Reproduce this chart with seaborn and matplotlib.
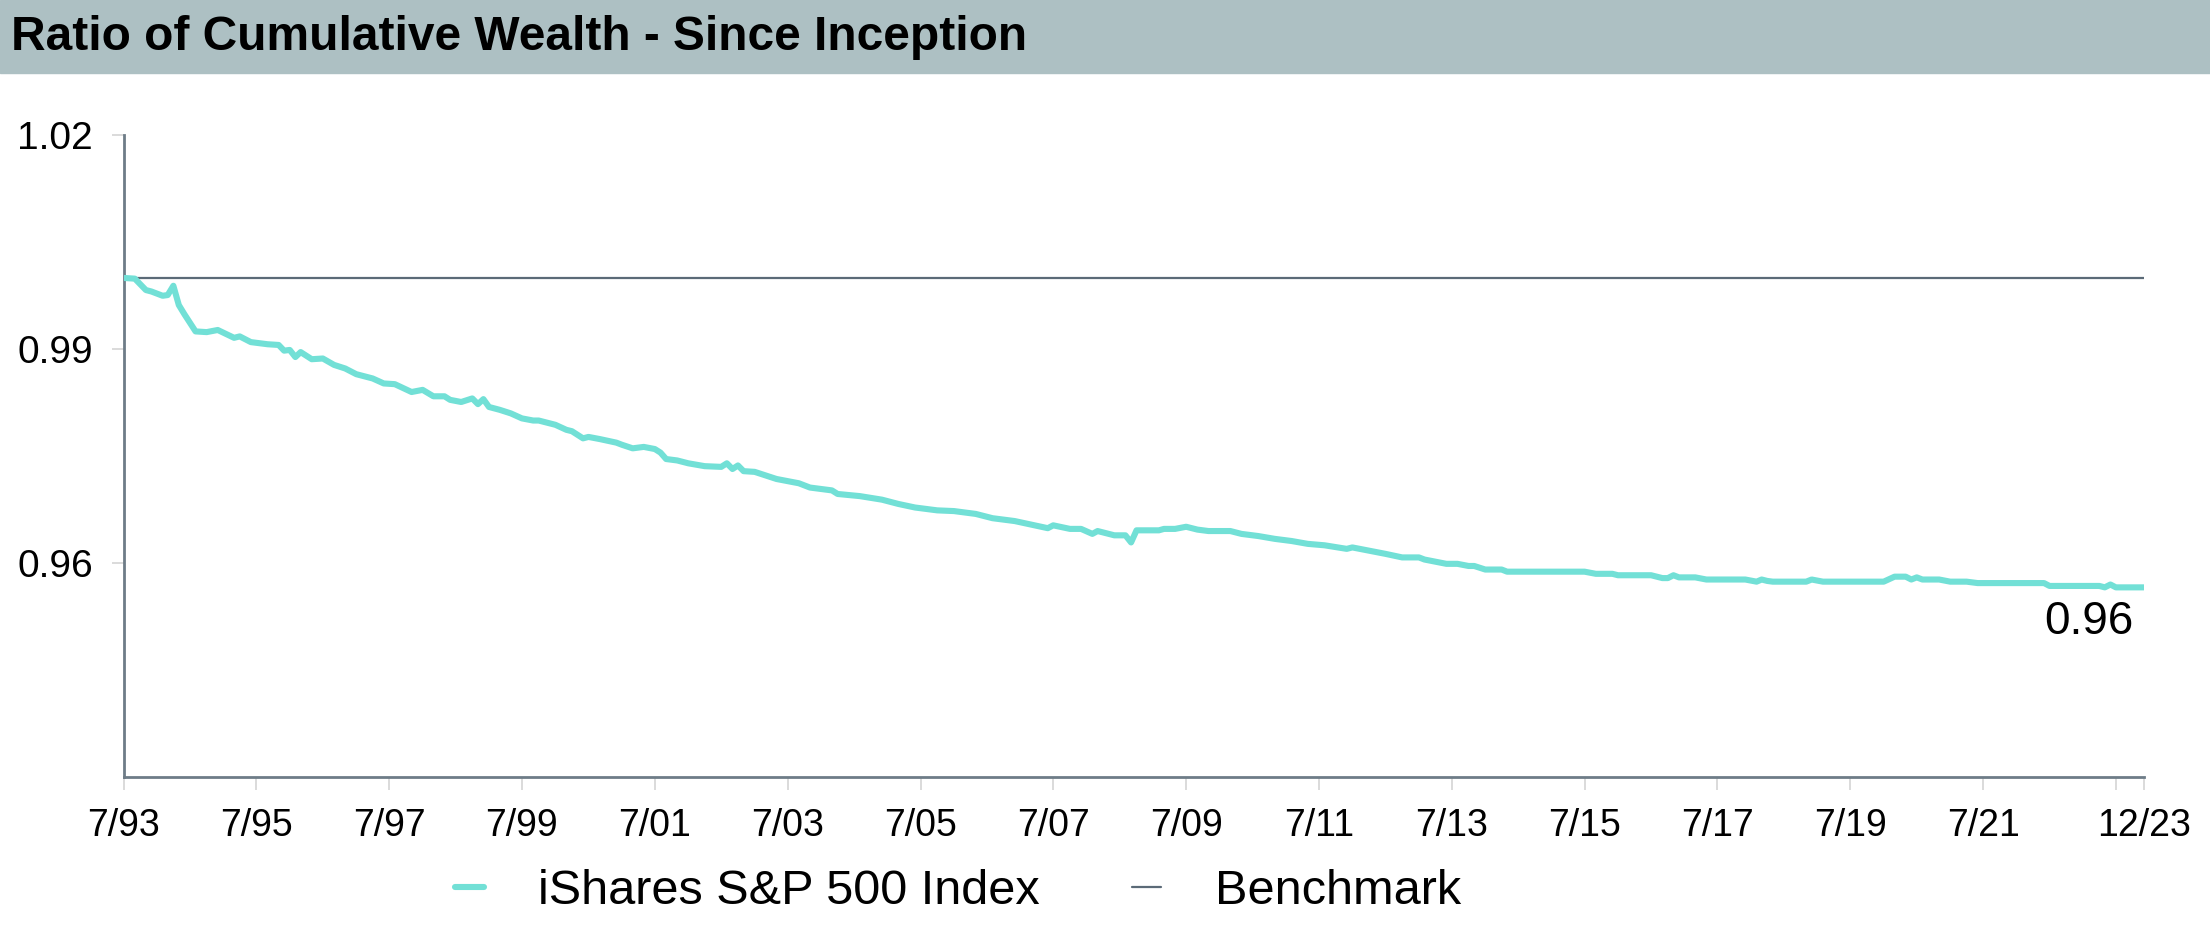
import matplotlib
matplotlib.use("Agg")
import matplotlib.pyplot as plt
from matplotlib.lines import Line2D
from matplotlib.patches import Rectangle
import pandas as pd
import seaborn as sns

# Monthly ratio of cumulative wealth, fund vs. benchmark
dates = [
    "1993-07", "1993-09", "1993-11", "1993-12", "1994-02", "1994-03", "1994-04", "1994-05",
    "1994-06", "1994-08", "1994-10", "1994-12", "1995-03", "1995-04", "1995-06", "1995-09",
    "1995-11", "1995-12", "1996-01", "1996-02", "1996-03", "1996-05", "1996-07", "1996-09",
    "1996-11", "1997-01", "1997-04", "1997-06", "1997-08", "1997-11", "1998-01", "1998-03",
    "1998-05", "1998-06", "1998-08", "1998-10", "1998-11", "1998-12", "1999-01", "1999-03",
    "1999-05", "1999-07", "1999-09", "1999-10", "2000-01", "2000-03", "2000-04", "2000-06",
    "2000-07", "2000-09", "2000-12", "2001-01", "2001-03", "2001-05", "2001-07", "2001-08",
    "2001-09", "2001-11", "2002-01", "2002-04", "2002-07", "2002-08", "2002-09", "2002-10",
    "2002-11", "2003-01", "2003-05", "2003-09", "2003-11", "2004-03", "2004-04", "2004-08",
    "2004-12", "2005-03", "2005-06", "2005-10", "2006-01", "2006-05", "2006-08", "2006-12",
    "2007-03", "2007-06", "2007-07", "2007-10", "2007-12", "2008-02", "2008-03", "2008-05",
    "2008-06", "2008-08", "2008-09", "2008-10", "2009-02", "2009-03", "2009-05", "2009-07",
    "2009-09", "2009-11", "2010-03", "2010-05", "2010-08", "2010-11", "2011-02", "2011-05",
    "2011-08", "2011-12", "2012-01", "2012-03", "2012-07", "2012-10", "2013-01", "2013-02",
    "2013-06", "2013-08", "2013-10", "2013-11", "2014-01", "2014-04", "2014-05", "2015-07",
    "2015-09", "2015-12", "2016-01", "2016-07", "2016-09", "2016-10", "2016-11", "2016-12",
    "2017-03", "2017-05", "2017-12", "2018-02", "2018-03", "2018-04", "2018-05", "2018-11",
    "2018-12", "2019-02", "2020-01", "2020-03", "2020-05", "2020-06", "2020-07", "2020-08",
    "2020-11", "2021-01", "2021-04", "2021-06", "2022-06", "2022-07", "2023-04", "2023-05",
    "2023-06", "2023-07", "2023-12",
]
ishares_ratio = [
    1.0000, 0.9999, 0.9983, 0.9981, 0.9975, 0.9976, 0.9989, 0.9962,
    0.9949, 0.9925, 0.9924, 0.9927, 0.9916, 0.9918, 0.9910, 0.9907,
    0.9906, 0.9898, 0.9899, 0.9889, 0.9896, 0.9886, 0.9887, 0.9878,
    0.9873, 0.9865, 0.9859, 0.9852, 0.9851, 0.9840, 0.9843, 0.9834,
    0.9834, 0.9829, 0.9826, 0.9831, 0.9823, 0.9830, 0.9819, 0.9815,
    0.9810, 0.9803, 0.9800, 0.9800, 0.9794, 0.9787, 0.9785, 0.9775,
    0.9777, 0.9774, 0.9769, 0.9766, 0.9761, 0.9763, 0.9760, 0.9755,
    0.9746, 0.9744, 0.9740, 0.9736, 0.9735, 0.9740, 0.9732, 0.9737,
    0.9729, 0.9728, 0.9718, 0.9712, 0.9706, 0.9702, 0.9697, 0.9694,
    0.9689, 0.9683, 0.9678, 0.9674, 0.9673, 0.9669, 0.9663, 0.9659,
    0.9654, 0.9649, 0.9653, 0.9648, 0.9648, 0.9641, 0.9645, 0.9641,
    0.9639, 0.9639, 0.9629, 0.9646, 0.9646, 0.9648, 0.9648, 0.9651,
    0.9647, 0.9645, 0.9645, 0.9641, 0.9638, 0.9634, 0.9631, 0.9627,
    0.9625, 0.9620, 0.9622, 0.9619, 0.9613, 0.9608, 0.9608, 0.9605,
    0.9599, 0.9599, 0.9596, 0.9596, 0.9591, 0.9591, 0.9588, 0.9588,
    0.9585, 0.9585, 0.9583, 0.9583, 0.9579, 0.9579, 0.9583, 0.9580,
    0.9580, 0.9577, 0.9577, 0.9574, 0.9577, 0.9575, 0.9574, 0.9574,
    0.9577, 0.9574, 0.9574, 0.9581, 0.9581, 0.9577, 0.9580, 0.9577,
    0.9577, 0.9574, 0.9574, 0.9572, 0.9572, 0.9568, 0.9568, 0.9566,
    0.9570, 0.9566, 0.9566,
]
benchmark_dates = ["1993-07", "2023-12"]
benchmark_ratio = [1.0, 1.0]

y_ticks = [0.96, 0.99, 1.02]
x_tick_dates = [
    "1993-07", "1995-07", "1997-07", "1999-07", "2001-07", "2003-07", "2005-07",
    "2007-07", "2009-07", "2011-07", "2013-07", "2015-07", "2017-07", "2019-07",
    "2021-07", "2023-07", "2023-12",
]
x_tick_labels = [
    "7/93", "7/95", "7/97", "7/99", "7/01", "7/03", "7/05", "7/07", "7/09",
    "7/11", "7/13", "7/15", "7/17", "7/19", "7/21", "", "12/23",
]

FUND_COLOR = "#72e0d6"
BENCH_COLOR = "#5b6a77"
AXIS_COLOR = "#6e7c87"
TICK_COLOR = "#d4d4d4"
BAR_COLOR = "#adc0c3"

sns.set_theme(style="white")
plt.rcParams["font.family"] = ["Liberation Sans", "DejaVu Sans"]
plt.rcParams["text.color"] = "black"

fund = pd.DataFrame({"date": pd.to_datetime(dates), "ratio": ishares_ratio})
bench = pd.DataFrame({"date": pd.to_datetime(benchmark_dates), "ratio": benchmark_ratio})

fig = plt.figure(figsize=(22.1, 9.27), dpi=100)
ax = fig.add_axes([0.0559, 0.1618, 0.9141, 0.6922])

sns.lineplot(data=bench, x="date", y="ratio", ax=ax, color=BENCH_COLOR,
             linewidth=1.6, legend=False, zorder=2)
sns.lineplot(data=fund, x="date", y="ratio", ax=ax, color=FUND_COLOR,
             linewidth=4.4, legend=False, zorder=3)

ax.set_xlim(pd.Timestamp("1993-07-01"), pd.Timestamp("2023-12-01"))
ax.set_ylim(0.93, 1.02)
ax.set_yticks(y_ticks)
ax.set_yticklabels([f"{v:.2f}" for v in y_ticks])
ax.set_xticks(pd.to_datetime(x_tick_dates))
ax.set_xticklabels(x_tick_labels)
ax.set_xlabel("")
ax.set_ylabel("")
ax.grid(False)

for side in ("top", "right"):
    ax.spines[side].set_visible(False)
for side in ("left", "bottom"):
    ax.spines[side].set_color(AXIS_COLOR)
    ax.spines[side].set_linewidth(2.0)

ax.tick_params(axis="y", length=9, width=1.2, color=TICK_COLOR, pad=13,
               labelsize=28, labelcolor="black", left=True)
ax.tick_params(axis="x", length=9.5, width=1.2, color=TICK_COLOR, pad=13,
               labelsize=27, labelcolor="black", bottom=True)

# Final value label at the end of the fund line
last_date = fund["date"].iloc[-1]
last_value = fund["ratio"].iloc[-1]
ax.annotate(f"{last_value:.2f}", xy=(last_date, last_value), xytext=(-7, -9),
            textcoords="offset points", ha="right", va="top", fontsize=33,
            color="black")

# Header band with title
fig.add_artist(Rectangle((0, 1 - 73 / 927), 1.0, 73 / 927,
                         transform=fig.transFigure, color=BAR_COLOR, zorder=0))
fig.text(11 / 2210, 1 - 38 / 927, "Ratio of Cumulative Wealth - Since Inception",
         fontsize=34.5, fontweight="bold", ha="left", va="center", color="black")

handles = [Line2D([], [], color=FUND_COLOR, linewidth=4.4),
           Line2D([], [], color=BENCH_COLOR, linewidth=1.6)]
leg = fig.legend(handles, ["iShares S&P 500 Index", "Benchmark"], loc="center",
                 bbox_to_anchor=(958 / 2210, 1 - 892 / 927), ncol=2, frameon=False,
                 fontsize=35, handlelength=0.6, handletextpad=1.1, columnspacing=1.9)
for t in leg.get_texts():
    t.set_color("black")

fig.savefig("out.png", dpi=100)
